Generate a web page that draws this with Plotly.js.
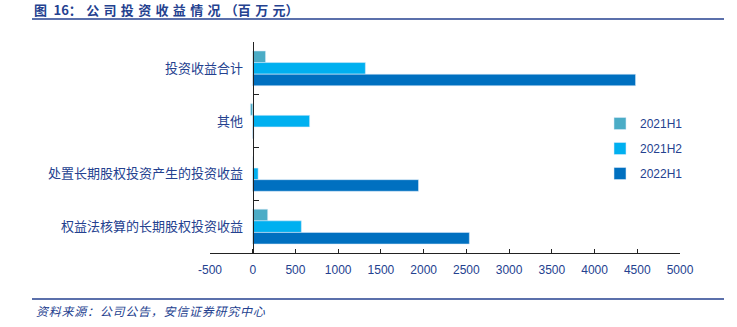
<!DOCTYPE html>
<html>
<head>
<meta charset="utf-8">
<script src="https://cdn.plot.ly/plotly-3.0.1.min.js"></script>
<style>html,body{margin:0;padding:0;background:#fff;}#chart{width:737px;height:327px;}</style>
</head>
<body>
<div id="chart"></div>
<script>
// Categories, top to bottom
const categories = ['投资收益合计', '其他', '处置长期股权投资产生的投资收益', '权益法核算的长期股权投资收益'];
const seriesNames = ['2021H1', '2021H2', '2022H1'];
const v2021H1 = [150, -27, 0, 175];
const v2021H2 = [1318, 666, 63, 569];
const v2022H1 = [4480, 15, 1940, 2535];
const xTicks = [-500, 0, 500, 1000, 1500, 2000, 2500, 3000, 3500, 4000, 4500, 5000];

const colors = ['#4bacc6', '#00b0f0', '#0070c0'];
const navy = '#24418f';
const values = [v2021H1, v2021H2, v2022H1];

const traces = seriesNames.map((name, i) => ({
  type: 'bar',
  orientation: 'h',
  name: name,
  y: categories,
  x: values[i],
  legendgroup: name,
  marker: {color: colors[i], line: {color: 'rgba(220,235,250,0.9)', width: 0.6}},
  hoverinfo: 'skip'
}));

// pixel helpers for paper coords (plot area 210..680 x, 42..253 y)
const L = 210, R = 680, T = 42, B = 253;
const px = x => (x - L) / (R - L);
const py = y => (B - y) / (B - T);

const sp = '\u2004';
const titleText = '<b>图\u200216：' + sp + ['公','司','投','资','收','益','情','况'].join(sp) + sp + '（百' + sp + '万' + sp + '元）</b>';
const sourceText = '<i>' + Array.from('资料来源：公司公告，安信证券研究中心').join('\u200A') + '</i>';

const layout = {
  width: 737, height: 327,
  margin: {l: L, r: 737 - R, t: T, b: 327 - B, pad: 0},
  paper_bgcolor: '#fff', plot_bgcolor: '#fff',
  barmode: 'group', bargap: 0.34, bargroupgap: 0,
  showlegend: true,
  font: {family: 'Liberation Sans, Arial, sans-serif', color: navy},
  title: {
    text: titleText,
    font: {family: 'Noto Sans CJK SC, sans-serif', size: 13, color: navy},
    x: 34 / 737, xanchor: 'left', xref: 'container',
    y: 1 - 10 / 327, yanchor: 'middle', yref: 'container'
  },
  xaxis: {
    range: [-500, 5000], tickvals: xTicks, ticktext: xTicks.map(String),
    showline: true, linecolor: '#222', linewidth: 1,
    ticks: 'inside', ticklen: 4, tickcolor: '#222',
    ticklabelstandoff: 6,
    showgrid: false, zeroline: false,
    tickfont: {family: 'Liberation Sans, Arial, sans-serif', size: 12, color: navy},
    fixedrange: true
  },
  yaxis: {
    type: 'category', autorange: 'reversed',
    anchor: 'free', position: 500 / 5500, side: 'left',
    showline: true, linecolor: '#222', linewidth: 1,
    ticks: 'inside', tickson: 'boundaries', ticklen: 5, tickcolor: '#222',
    ticklabelstandoff: 7,
    showgrid: false, zeroline: false, automargin: false,
    tickfont: {family: 'Noto Sans CJK SC, sans-serif', size: 13, color: navy},
    fixedrange: true
  },
  legend: {
    x: px(600), y: py(109), xanchor: 'left', yanchor: 'top',
    traceorder: 'grouped', tracegroupgap: 6,
    font: {family: 'Liberation Sans, Arial, sans-serif', size: 12, color: navy},
    bgcolor: 'rgba(0,0,0,0)'
  },
  shapes: [
    {type: 'line', xref: 'paper', yref: 'paper', x0: px(32), x1: px(724), y0: py(19), y1: py(19), line: {color: navy, width: 1.5}},
    {type: 'line', xref: 'paper', yref: 'paper', x0: px(32), x1: px(724), y0: py(299), y1: py(299), line: {color: navy, width: 1.5}}
  ],
  annotations: [
    {text: sourceText, xref: 'paper', yref: 'paper',
     x: px(34), y: py(310), xanchor: 'left', yanchor: 'middle', showarrow: false,
     font: {family: 'Noto Sans CJK SC, sans-serif', size: 12, color: navy}}
  ]
};

Plotly.newPlot('chart', traces, layout, {displayModeBar: false, staticPlot: true});
</script>
</body>
</html>
